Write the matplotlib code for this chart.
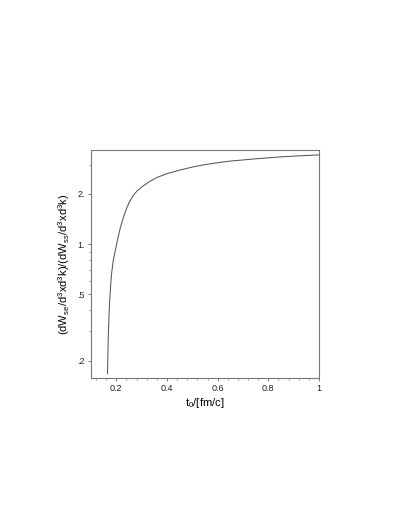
import numpy as np
import matplotlib
matplotlib.use("Agg")
import matplotlib.pyplot as plt
from matplotlib.ticker import FixedLocator, FixedFormatter, MultipleLocator, LogLocator, NullFormatter

plt.rcParams['font.family'] = ['Liberation Sans', 'DejaVu Sans']

# Datos
t0 = [0.165, 0.168, 0.172, 0.177, 0.181, 0.188, 0.195, 0.205, 0.215, 0.228,
      0.24, 0.25, 0.265, 0.28, 0.30, 0.33, 0.36, 0.40, 0.45, 0.50,
      0.55, 0.60, 0.65, 0.75, 0.85, 0.93, 1.0]
ratio = [0.167, 0.27, 0.41, 0.55, 0.66, 0.80, 0.90, 1.07, 1.24, 1.45,
         1.63, 1.77, 1.94, 2.07, 2.20, 2.37, 2.51, 2.65, 2.78, 2.90,
         3.00, 3.08, 3.15, 3.25, 3.34, 3.39, 3.43]

ytick_vals = [0.2, 0.5, 1.0, 2.0]
ytick_labels = ['.2', '.5', '1.', '2.']

fig = plt.figure(figsize=(4.09, 5.29), dpi=100)
ax = fig.add_axes([0.2225, 0.2854, 0.5575, 0.431])

ax.plot(t0, ratio, color='#555555', lw=0.75)

ax.set_yscale('log')
ax.set_xlim(0.1, 1.0)
ax.set_ylim(0.157, 3.67)

ax.yaxis.set_major_locator(FixedLocator(ytick_vals))
ax.yaxis.set_major_formatter(FixedFormatter(ytick_labels))
ax.yaxis.set_minor_locator(LogLocator(base=10, subs=np.arange(2, 10)))
ax.yaxis.set_minor_formatter(NullFormatter())

ax.xaxis.set_major_locator(FixedLocator([0.2, 0.4, 0.6, 0.8, 1.0]))
ax.xaxis.set_major_formatter(FixedFormatter(['0.2', '0.4', '0.6', '0.8', '1']))
ax.xaxis.set_minor_locator(MultipleLocator(0.04))

ax.tick_params(which='major', direction='out', length=2.5, width=0.5, labelsize=6.5,
               colors='#444444', labelcolor='#222222', pad=2)
ax.tick_params(which='minor', direction='out', length=1.5, width=0.5, colors='#777777')
for s in ax.spines.values():
    s.set_color('#777777')
    s.set_linewidth(0.8)

ax.set_xlabel(r'$\mathregular{t_0}$/[fm/c]', fontsize=8, labelpad=2)
ax.set_ylabel(r'$\mathregular{(dW_{se}/d^3xd^3k)/(dW_{ss}/d^3xd^3k)}$', fontsize=8, labelpad=4)

fig.savefig('out.png', dpi=100)
